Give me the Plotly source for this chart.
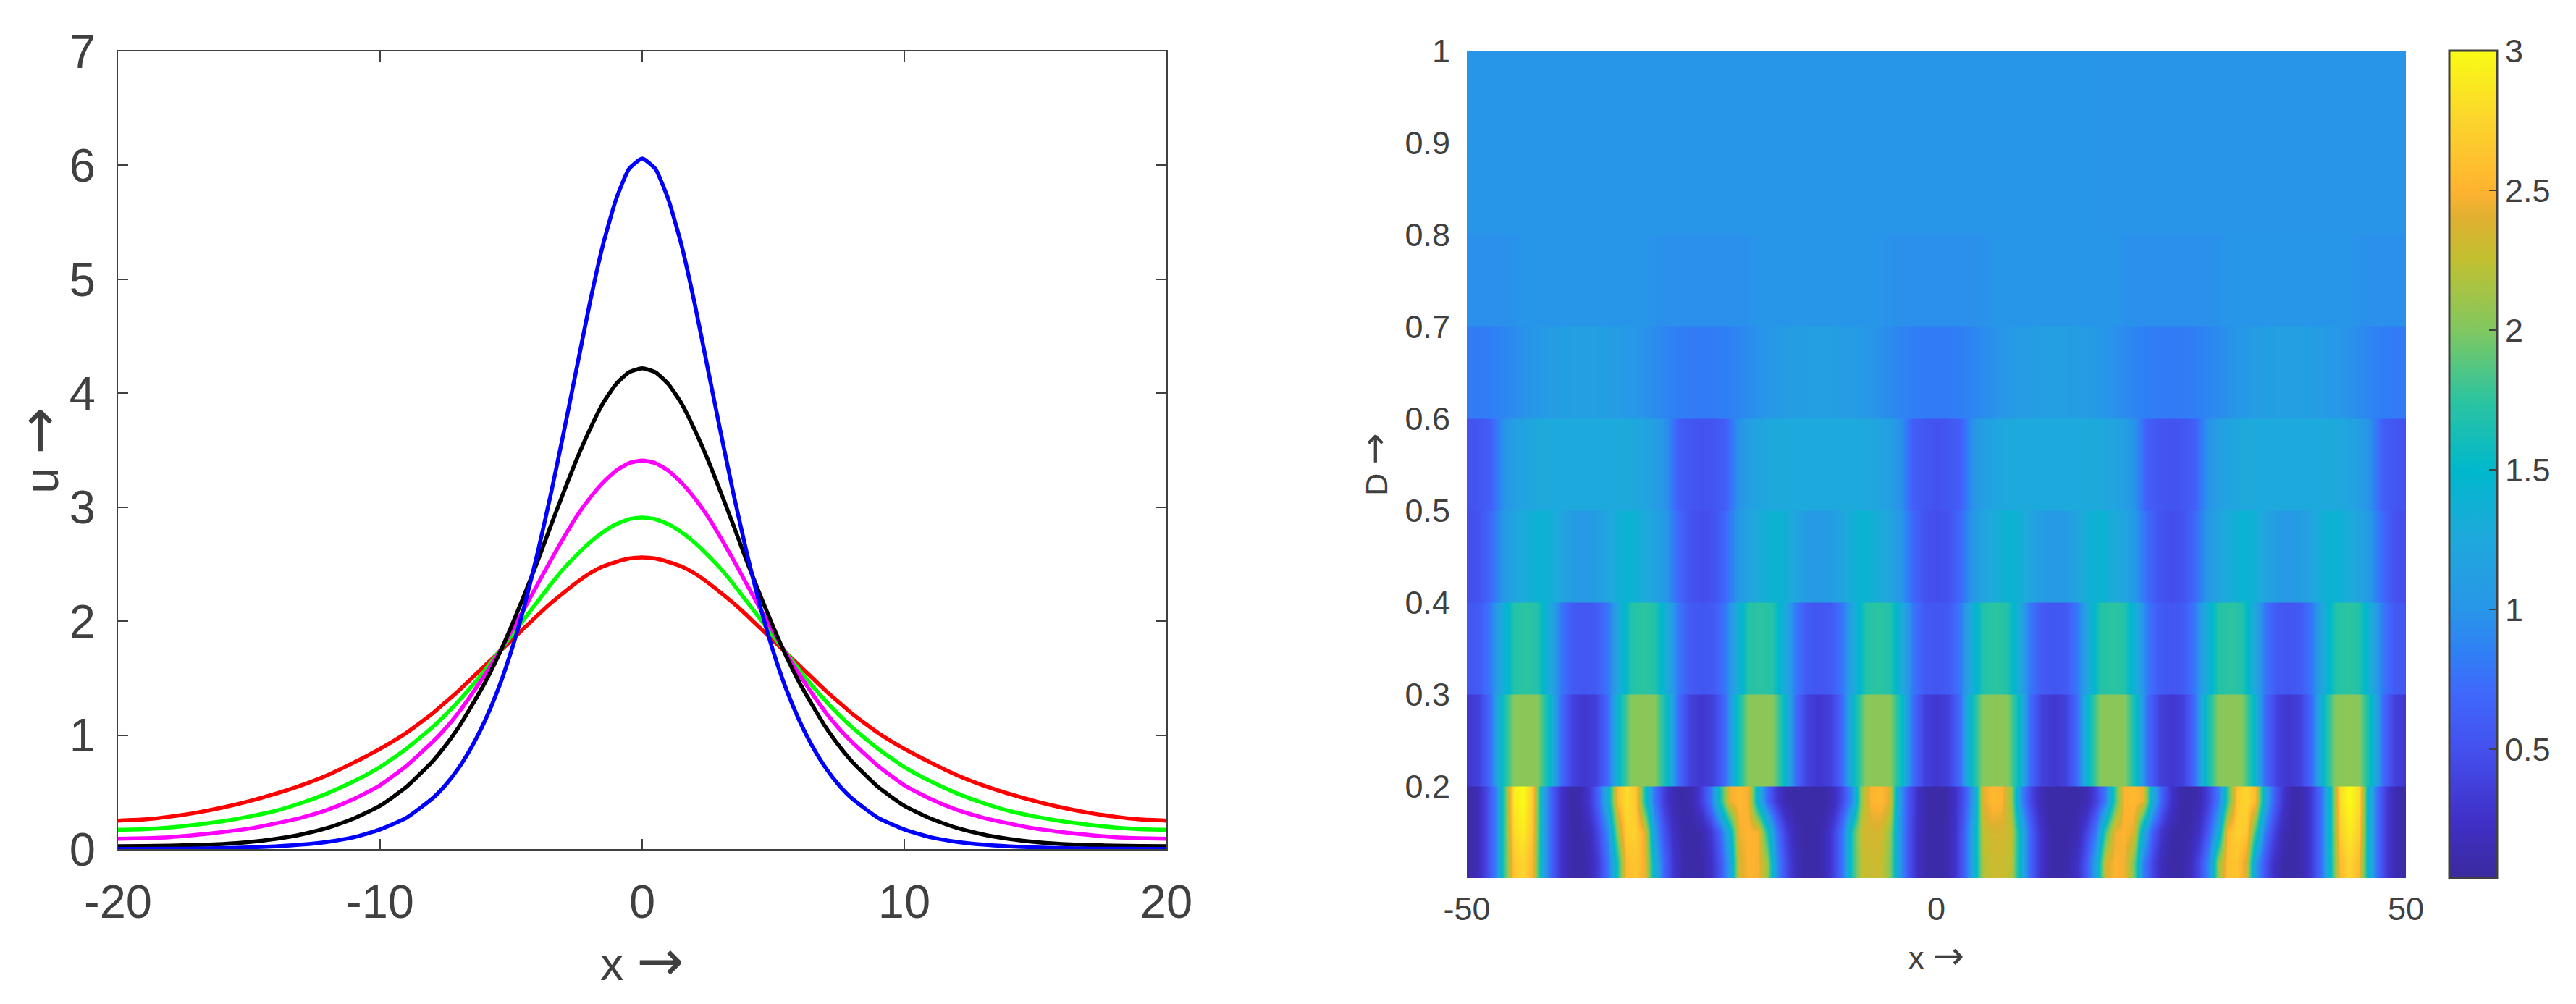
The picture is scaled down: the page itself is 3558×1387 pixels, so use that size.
import plotly.graph_objects as go

# ---------- left panel: pulse profiles (x >= 0 half; profiles are symmetric)
x_half = [0, .5, 1, 1.5, 2, 2.5, 3, 3.5, 4, 4.5, 5, 5.5, 6, 6.5, 7, 7.5, 8,
          9, 10, 11, 12, 13, 14, 15, 16, 17, 18, 19, 20]
u_blue = [6.06, 5.97, 5.70, 5.30, 4.79, 4.22, 3.65, 3.10, 2.59, 2.13, 1.735, 1.40, 1.126, 0.90, 0.713, 0.563, 0.445,
          0.274, 0.172, 0.104, 0.064, 0.039, 0.024, 0.015, 0.009, 0.005, 0.003, 0.002, 0.002]
u_black = [4.22, 4.185, 4.08, 3.91, 3.68, 3.42, 3.13, 2.83, 2.52, 2.23, 1.95, 1.69, 1.46, 1.26, 1.07, 0.91, 0.77,
           0.545, 0.38, 0.268, 0.186, 0.129, 0.089, 0.062, 0.045, 0.036, 0.030, 0.027, 0.025]
u_magenta = [3.41, 3.387, 3.32, 3.215, 3.08, 2.92, 2.73, 2.53, 2.32, 2.11, 1.91, 1.71, 1.53, 1.36, 1.20, 1.06, 0.94,
             0.73, 0.56, 0.44, 0.345, 0.276, 0.225, 0.18, 0.15, 0.125, 0.105, 0.095, 0.09]
u_green = [2.91, 2.895, 2.85, 2.78, 2.69, 2.58, 2.46, 2.32, 2.17, 2.02, 1.87, 1.72, 1.57, 1.43, 1.30, 1.18, 1.07,
           0.88, 0.72, 0.595, 0.49, 0.405, 0.335, 0.285, 0.245, 0.215, 0.19, 0.175, 0.17]
u_red = [2.56, 2.55, 2.52, 2.48, 2.42, 2.34, 2.25, 2.155, 2.05, 1.94, 1.83, 1.72, 1.61, 1.50, 1.39, 1.29, 1.19,
         1.02, 0.88, 0.76, 0.65, 0.56, 0.485, 0.42, 0.365, 0.32, 0.285, 0.26, 0.25]

# ---------- right panel: D bands
x_fine = list(range(-50, 51))        # D in 0.1-0.2, stripes drift with D
y_low = [0.11667, 0.15, 0.18333]
z_low_a = [  # near D = 0.1
    .08, .14, .40, .82, 1.8, 2.65, 2.75, 2.5, 1.3, .62,
    .27, .10, .08, .13, .36, .78, 1.65, 2.55, 2.65, 2.45,
    1.4, .68, .30, .11, .08, .09, .23, .54, 1.1, 2.35,
    2.5, 2.47, 2.1, .95, .46, .18, .08, .08, .14, .37,
    .80, 1.7, 2.25, 2.3, 2.29, 2.05, 1.08, .52, .21, .09,
    .08, .10, .26, .63, 1.3, 2.2, 2.3, 2.3, 2.22, 1.4,
    .67, .30, .10, .08, .11, .25, .58, 1.2, 2.35, 2.5,
    2.46, 2.0, .88, .43, .16, .08, .08, .18, .46, .95,
    2.1, 2.6, 2.62, 2.35, 1.1, .54, .23, .09, .08, .13,
    .35, .74, 1.58, 2.55, 2.75, 2.55, 1.45, .70, .32, .12,
    .08]
z_low_b = [  # near D = 0.15
    .08, .14, .40, .82, 1.8, 2.8, 2.9, 2.6, 1.3, .62,
    .27, .10, .08, .18, .46, .95, 2.1, 2.7, 2.72, 2.4,
    1.1, .54, .23, .09, .08, .11, .30, .68, 1.4, 2.45,
    2.52, 2.48, 1.65, .78, .36, .13, .08, .08, .14, .37,
    .80, 1.7, 2.3, 2.35, 2.34, 2.1, 1.08, .52, .21, .09,
    .08, .10, .26, .63, 1.3, 2.25, 2.35, 2.35, 2.26, 1.4,
    .67, .30, .10, .08, .08, .14, .40, .82, 1.8, 2.45,
    2.5, 2.42, 1.3, .62, .27, .10, .08, .10, .27, .62,
    1.3, 2.55, 2.72, 2.65, 1.8, .82, .40, .14, .08, .13,
    .35, .74, 1.58, 2.7, 2.9, 2.7, 1.45, .70, .32, .12,
    .08]
z_low_c = [  # near D = 0.2
    .08, .14, .40, .82, 1.8, 2.9, 3.0, 2.65, 1.3, .62,
    .27, .10, .11, .30, .68, 1.4, 2.55, 2.8, 2.65, 1.65,
    .78, .36, .13, .08, .13, .36, .78, 1.65, 2.45, 2.55,
    2.45, 1.4, .68, .30, .11, .08, .08, .08, .08, .18,
    .46, .95, 2.1, 2.5, 2.55, 2.4, 1.1, .54, .23, .09,
    .08, .09, .23, .54, 1.1, 2.4, 2.55, 2.5, 2.1, .95,
    .46, .18, .08, .08, .08, .08, .14, .40, .82, 1.8,
    2.5, 2.55, 2.45, 1.3, .62, .27, .10, .08, .14, .40,
    .82, 1.8, 2.65, 2.75, 2.55, 1.3, .62, .27, .10, .13,
    .35, .74, 1.58, 2.8, 3.0, 2.8, 1.45, .70, .32, .12,
    .08]

x_mid = [-50 + 1.25 * i for i in range(81)]   # columns of the flat bands
z_d02 = [
    .30, .38, .72, 1.55, 2.03, 2.05, 2.03, 1.55, .72, .38,
    .30, .38, .72, 1.55, 2.03, 2.05, 2.03, 1.55, .72, .38,
    .30, .38, .72, 1.55, 2.03, 2.05, 2.03, 1.55, .72, .38,
    .30, .38, .72, 1.55, 2.03, 2.05, 2.03, 1.55, .72, .38,
    .30, .38, .72, 1.55, 2.03, 2.05, 2.03, 1.55, .72, .38,
    .30, .38, .72, 1.55, 2.03, 2.05, 2.03, 1.55, .72, .38,
    .30, .38, .72, 1.55, 2.03, 2.05, 2.03, 1.55, .72, .38,
    .30, .38, .72, 1.55, 2.03, 2.05, 2.03, 1.55, .72, .38,
    .30]
z_d03 = [
    .55, .58, .80, 1.30, 1.70, 1.75, 1.70, 1.30, .80, .58,
    .55, .58, .80, 1.30, 1.70, 1.75, 1.70, 1.30, .80, .58,
    .55, .58, .80, 1.30, 1.70, 1.75, 1.70, 1.30, .80, .58,
    .55, .58, .80, 1.30, 1.70, 1.75, 1.70, 1.30, .80, .58,
    .55, .58, .80, 1.30, 1.70, 1.75, 1.70, 1.30, .80, .58,
    .55, .58, .80, 1.30, 1.70, 1.75, 1.70, 1.30, .80, .58,
    .55, .58, .80, 1.30, 1.70, 1.75, 1.70, 1.30, .80, .58,
    .55, .58, .80, 1.30, 1.70, 1.75, 1.70, 1.30, .80, .58,
    .55]
z_d04 = [
    .48, .52, .70, 1.0, 1.2, 1.3, 1.42, 1.38, 1.2, 1.08, 1.05, 1.08, 1.2, 1.38, 1.42, 1.3, 1.2, 1.0, .70, .52,
    .48, .52, .70, 1.0, 1.2, 1.3, 1.42, 1.38, 1.2, 1.08, 1.05, 1.08, 1.2, 1.38, 1.42, 1.3, 1.2, 1.0, .70, .52,
    .48, .52, .70, 1.0, 1.2, 1.3, 1.42, 1.38, 1.2, 1.08, 1.05, 1.08, 1.2, 1.38, 1.42, 1.3, 1.2, 1.0, .70, .52,
    .48, .52, .70, 1.0, 1.2, 1.3, 1.42, 1.38, 1.2, 1.08, 1.05, 1.08, 1.2, 1.38, 1.42, 1.3, 1.2, 1.0, .70, .52,
    .48]
z_d05 = [
    .52, .55, .62, .95, 1.12, 1.2, 1.25, 1.27, 1.27, 1.27, 1.27, 1.27, 1.27, 1.27, 1.25, 1.2, 1.12, .95, .62, .55,
    .52, .55, .62, .95, 1.12, 1.2, 1.25, 1.27, 1.27, 1.27, 1.27, 1.27, 1.27, 1.27, 1.25, 1.2, 1.12, .95, .62, .55,
    .52, .55, .62, .95, 1.12, 1.2, 1.25, 1.27, 1.27, 1.27, 1.27, 1.27, 1.27, 1.27, 1.25, 1.2, 1.12, .95, .62, .55,
    .52, .55, .62, .95, 1.12, 1.2, 1.25, 1.27, 1.27, 1.27, 1.27, 1.27, 1.27, 1.27, 1.25, 1.2, 1.12, .95, .62, .55,
    .52]
z_d06 = [
    .82, .82, .84, .88, .93, .98, 1.03, 1.08, 1.10, 1.12, 1.12, 1.12, 1.10, 1.08, 1.03, .98, .93, .88, .84, .82,
    .82, .82, .84, .88, .93, .98, 1.03, 1.08, 1.10, 1.12, 1.12, 1.12, 1.10, 1.08, 1.03, .98, .93, .88, .84, .82,
    .82, .82, .84, .88, .93, .98, 1.03, 1.08, 1.10, 1.12, 1.12, 1.12, 1.10, 1.08, 1.03, .98, .93, .88, .84, .82,
    .82, .82, .84, .88, .93, .98, 1.03, 1.08, 1.10, 1.12, 1.12, 1.12, 1.10, 1.08, 1.03, .98, .93, .88, .84, .82,
    .82]
z_d07 = [
    .96, .96, .96, .96, .97, 1.0, 1.0, 1.0, 1.0, 1.0, 1.0, 1.0, 1.0, 1.0, 1.0, 1.0, .97, .96, .96, .96,
    .96, .96, .96, .96, .97, 1.0, 1.0, 1.0, 1.0, 1.0, 1.0, 1.0, 1.0, 1.0, 1.0, 1.0, .97, .96, .96, .96,
    .96, .96, .96, .96, .97, 1.0, 1.0, 1.0, 1.0, 1.0, 1.0, 1.0, 1.0, 1.0, 1.0, 1.0, .97, .96, .96, .96,
    .96, .96, .96, .96, .97, 1.0, 1.0, 1.0, 1.0, 1.0, 1.0, 1.0, 1.0, 1.0, 1.0, 1.0, .97, .96, .96, .96,
    .96]
x_flat = [-50, 0, 50]
z_d08 = [1.0, 1.0, 0.99]
z_d09 = [1.0, 1.0, 0.99]

z_min, z_max = 0.04, 3.0
cmap_z = [0.04, 0.25, 0.5, 0.7, 0.85, 1.0, 1.25, 1.5, 1.75, 2.0, 2.25, 2.4, 2.5, 2.75, 3.0]
cmap_c = ["#3a2a9e", "#4030c8", "#4450ee", "#3f68fb", "#2f80f5", "#2896e8", "#1fa8dc", "#00b8cc",
          "#2cc4a0", "#80c860", "#c0c030", "#e0b030", "#ffb330", "#fcd52c", "#f9fb15"]

W, H = 3558, 1387
PAGE = 8    # the page's own body margin, in pixels
INK = "#404040"
FONT = "Liberation Sans, Arial, sans-serif"

def fx(px):
    return (px - PAGE) / W

def fy(py):
    return (H - (py - PAGE)) / H

fig = go.Figure()

x_full = [-v for v in x_half[:0:-1]] + x_half
for vals, col in [(u_red, "#ff0000"), (u_green, "#00ff00"), (u_magenta, "#ff00ff"),
                  (u_black, "#000000"), (u_blue, "#0000ff")]:
    fig.add_trace(go.Scatter(x=x_full, y=vals[:0:-1] + vals, mode="lines", xaxis="x", yaxis="y",
                             line=dict(color=col, width=5.5, shape="spline", smoothing=0.5),
                             showlegend=False))

def band(xs, ys, rows):
    fig.add_trace(go.Heatmap(x=xs, y=ys, z=rows, xaxis="x2", yaxis="y2", coloraxis="coloraxis",
                             zsmooth="best"))

band(x_fine, y_low, [z_low_a, z_low_b, z_low_c])
band(x_mid, [0.2248, 0.2752], [z_d02, z_d02])
band(x_mid, [0.3248, 0.3752], [z_d03, z_d03])
band(x_mid, [0.4248, 0.4752], [z_d04, z_d04])
band(x_mid, [0.5248, 0.5752], [z_d05, z_d05])
band(x_mid, [0.6248, 0.6752], [z_d06, z_d06])
band(x_mid, [0.7248, 0.7752], [z_d07, z_d07])
band(x_flat, [0.8248, 0.8752], [z_d08, z_d08])
band(x_flat, [0.9248, 0.9752], [z_d09, z_d09])

tick_l = dict(family=FONT, size=65, color=INK)
tick_r = dict(family=FONT, size=45, color=INK)
ARROW_L = " <span style='font-family:DejaVu Sans;font-size:78px'>→</span>"
ARROW_R = " <span style='font-family:DejaVu Sans;font-size:52px'>→</span>"

fig.update_layout(
    width=W, height=H, autosize=False, margin=dict(l=0, r=0, t=0, b=0, autoexpand=False),
    paper_bgcolor="white", plot_bgcolor="white", showlegend=False,
    xaxis=dict(domain=[fx(163), fx(1611)], range=[-20, 20], tickmode="array",
               tickvals=[-20, -10, 0, 10, 20], ticktext=["-20", "-10", "0", "10", "20"],
               ticks="inside", ticklen=14, tickwidth=2, tickcolor=INK, showline=True, linecolor=INK,
               linewidth=2, mirror="ticks", showgrid=False, zeroline=False, tickfont=tick_l,
               ticklabelstandoff=15,
               title=dict(text="x" + ARROW_L, font=dict(family=FONT, size=65, color=INK), standoff=20)),
    yaxis=dict(domain=[fy(1173), fy(71)], range=[0, 7], tickmode="array",
               tickvals=list(range(8)), ticks="inside", ticklen=14, tickwidth=2, tickcolor=INK,
               showline=True, linecolor=INK, linewidth=2, mirror="ticks", showgrid=False,
               zeroline=False, tickfont=tick_l, ticklabelstandoff=16,
               title=dict(text="u" + ARROW_L, font=dict(family=FONT, size=65, color=INK), standoff=2)),
    xaxis2=dict(domain=[fx(2026), fx(3323)], range=[-50, 50], tickmode="array",
                tickvals=[-50, 0, 50], ticktext=["-50", "0", "50"], ticks="", showline=False,
                showgrid=False, zeroline=False, tickfont=tick_r, ticklabelstandoff=12, anchor="y2",
                title=dict(text="x" + ARROW_R, font=dict(family=FONT, size=43, color=INK), standoff=27)),
    yaxis2=dict(domain=[fy(1213), fy(70)], range=[0.1, 1], tickmode="array",
                tickvals=[0.2, 0.3, 0.4, 0.5, 0.6, 0.7, 0.8, 0.9, 1],
                ticktext=["0.2", "0.3", "0.4", "0.5", "0.6", "0.7", "0.8", "0.9", "1"],
                ticks="", showline=False, showgrid=False, zeroline=False, tickfont=tick_r,
                ticklabelstandoff=22, anchor="x2",
                title=dict(text="D" + ARROW_R, font=dict(family=FONT, size=43, color=INK), standoff=10)),
    coloraxis=dict(
        cmin=z_min, cmax=z_max,
        colorscale=[[(z - z_min) / (z_max - z_min), c] for z, c in zip(cmap_z, cmap_c)],
        colorbar=dict(x=fx(3383), xanchor="left", xref="paper", y=fy(1213), yanchor="bottom",
                      yref="paper", len=1143, lenmode="pixels", thickness=66, thicknessmode="pixels",
                      xpad=0, ypad=0, outlinecolor=INK, outlinewidth=3, borderwidth=0,
                      tickmode="array", tickvals=[0.5, 1, 1.5, 2, 2.5, 3],
                      ticktext=["0.5", "1", "1.5", "2", "2.5", "3"],
                      ticks="inside", ticklen=12, tickwidth=2, tickcolor=INK, tickfont=tick_r),
    ),
)

fig.write_html("out.html")
